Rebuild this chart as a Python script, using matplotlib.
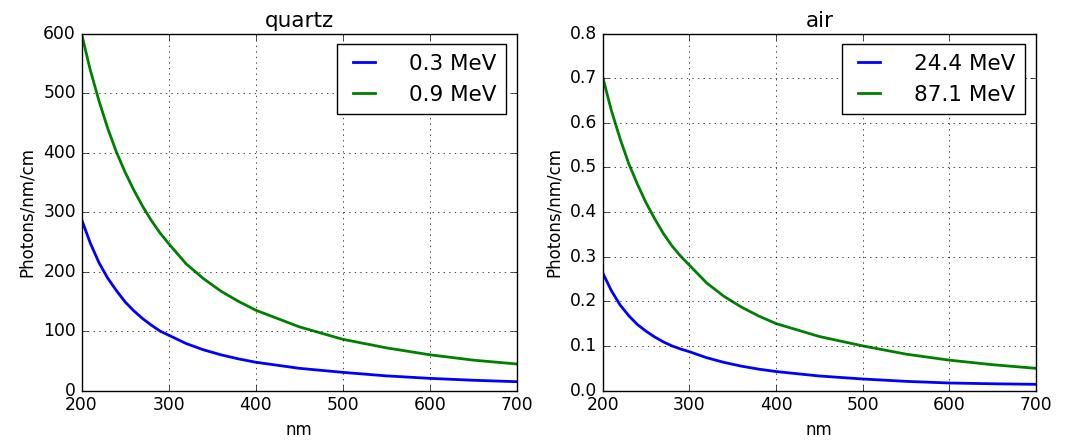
import matplotlib
matplotlib.use("Agg")
import matplotlib.pyplot as plt

# Cherenkov photon yield per nm per cm, quartz radiator
wl_quartz = [200, 210, 220, 230, 240, 250, 260, 270, 280, 290, 300,
             320, 340, 360, 380, 400, 450, 500, 550, 600, 650, 700]
quartz_lo = [288, 248, 215, 189, 168, 149, 134, 121, 110, 100, 93,
             79, 68.4, 60, 53.2, 47.5, 37.3, 30.5, 24.6, 20.4, 17.2, 14.8]
quartz_hi = [600, 539, 487, 441, 401, 367, 337, 310, 286, 265, 247,
             213, 188, 167, 150, 135, 107, 86, 71.7, 60, 51, 44.5]
quartz_labels = ["0.3 MeV", "0.9 MeV"]

# same for air
wl_air = [200, 210, 220, 230, 240, 250, 260, 270, 280, 290, 300,
          320, 340, 360, 380, 400, 450, 500, 550, 600, 650, 700]
air_lo = [0.264, 0.224, 0.192, 0.168, 0.148, 0.133, 0.120, 0.109, 0.100, 0.093, 0.087,
          0.0735, 0.063, 0.0546, 0.0479, 0.0425, 0.0325, 0.0258, 0.0205, 0.0168, 0.0151, 0.0138]
air_hi = [0.703, 0.628, 0.565, 0.509, 0.463, 0.421, 0.385, 0.352, 0.324, 0.301, 0.281,
          0.241, 0.211, 0.187, 0.167, 0.150, 0.121, 0.100, 0.0815, 0.068, 0.0578, 0.0497]
air_labels = ["24.4 MeV", "87.1 MeV"]

plt.style.use("classic")
plt.rcParams["font.family"] = "DejaVu Sans"

fig = plt.figure(figsize=(10.67, 4.41), dpi=100, facecolor="white")
ax1 = fig.add_axes([0.0764, 0.1145, 0.4082, 0.8095])
ax2 = fig.add_axes([0.5648, 0.1145, 0.4062, 0.8095])


def draw_panel(ax, wl, lo, hi, labels, title, ylim):
    ax.plot(wl, lo, color="b", lw=2, label=labels[0])
    ax.plot(wl, hi, color="g", lw=2, label=labels[1])
    ax.set_xlim(200, 700)
    ax.set_ylim(*ylim)
    ax.set_title(title, fontsize=15.5)
    ax.set_xlabel("nm", fontsize=12)
    ax.set_ylabel("Photons/nm/cm", fontsize=12)
    ax.tick_params(labelsize=12.3)
    ax.grid(True)
    ax.legend(loc="upper right", fontsize=15.5, handlelength=1.6,
              handletextpad=1.3, labelspacing=0.5, borderpad=0.45)


draw_panel(ax1, wl_quartz, quartz_lo, quartz_hi, quartz_labels, "quartz", (0, 600))
draw_panel(ax2, wl_air, air_lo, air_hi, air_labels, "air", (0, 0.8))

fig.savefig("out.png", dpi=100, facecolor="white")
